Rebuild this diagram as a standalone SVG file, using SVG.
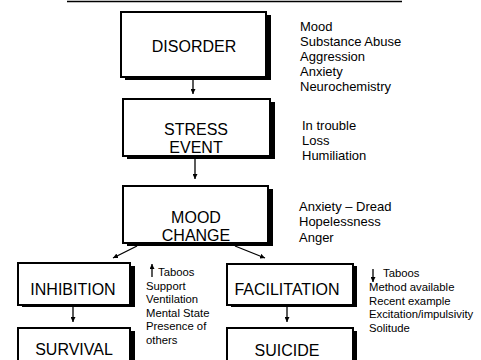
<svg xmlns="http://www.w3.org/2000/svg" width="481" height="360" viewBox="0 0 481 360">
<defs>
<style>
.box{fill:#fff;stroke:#000;stroke-width:2}
.sh{fill:#000}
.t{font-family:"Liberation Sans",Arial,sans-serif;font-size:16px;fill:#000;text-anchor:middle}
.s{font-family:"Liberation Sans",Arial,sans-serif;font-size:13px;fill:#000}
.m{font-family:"Liberation Sans",Arial,sans-serif;font-size:11.3px;fill:#000}
.c{stroke:#000;stroke-width:1.3;fill:none}
</style>
<marker id="ah" viewBox="0 0 10 10" refX="10" refY="5" markerWidth="5" markerHeight="5" markerUnits="userSpaceOnUse" orient="auto">
<path d="M0,0 L10,5 L0,10 z" fill="#000"/>
</marker>
<marker id="ah2" viewBox="0 0 10 10" refX="10" refY="5" markerWidth="6" markerHeight="5" markerUnits="userSpaceOnUse" orient="auto">
<path d="M0,0 L10,5 L0,10 z" fill="#000"/>
</marker>
</defs>
<rect width="481" height="360" fill="#fff"/>
<line x1="67" y1="1.5" x2="402" y2="1.5" stroke="#000" stroke-width="1.6"/>

<g id="connectors">
<line class="c" x1="193" y1="80" x2="193" y2="94" marker-end="url(#ah)"/>
<line class="c" x1="195" y1="159" x2="195" y2="179" marker-end="url(#ah)"/>
<line class="c" x1="137" y1="246" x2="113" y2="258" marker-end="url(#ah)"/>
<line class="c" x1="235" y1="246" x2="265" y2="258" marker-end="url(#ah)"/>
<line class="c" x1="73" y1="307" x2="73" y2="322" marker-end="url(#ah)"/>
<line class="c" x1="287" y1="307" x2="287" y2="322" marker-end="url(#ah)"/>
</g>

<g id="disorder">
<rect class="sh" x="125" y="15" width="146" height="65"/>
<rect class="box" x="121" y="12" width="145" height="65"/>
<text class="t" x="194" y="52">DISORDER</text>
</g>
<g id="disorder-notes">
<text class="s" x="300" y="31">Mood</text>
<text class="s" x="300" y="46">Substance Abuse</text>
<text class="s" x="300" y="61">Aggression</text>
<text class="s" x="300" y="76">Anxiety</text>
<text class="s" x="300" y="91">Neurochemistry</text>
</g>

<g id="stress">
<rect class="sh" x="127" y="102" width="148" height="57"/>
<rect class="box" x="123" y="99" width="147" height="57"/>
<text class="t" x="196" y="135">STRESS</text>
<text class="t" x="196" y="153">EVENT</text>
</g>
<g id="stress-notes">
<text class="s" x="302" y="130">In trouble</text>
<text class="s" x="302" y="145">Loss</text>
<text class="s" x="302" y="160">Humiliation</text>
</g>

<g id="mood">
<rect class="sh" x="127" y="189" width="146" height="57"/>
<rect class="box" x="123" y="186" width="145" height="57"/>
<text class="t" x="196" y="223">MOOD</text>
<text class="t" x="196" y="241">CHANGE</text>
</g>
<g id="mood-notes">
<text class="s" x="299" y="210.5">Anxiety – Dread</text>
<text class="s" x="299" y="226">Hopelessness</text>
<text class="s" x="299" y="241.5">Anger</text>
</g>

<g id="inhibition">
<rect class="sh" x="22" y="266" width="113" height="41"/>
<rect class="box" x="18" y="263" width="112" height="42"/>
<text class="t" x="73" y="295">INHIBITION</text>
</g>
<g id="inhibition-notes">
<line class="c" x1="152" y1="277" x2="152" y2="264" stroke-width="1" marker-end="url(#ah2)"/>
<text class="m" x="158" y="276">Taboos</text>
<text class="m" x="146" y="289.5">Support</text>
<text class="m" x="146" y="303">Ventilation</text>
<text class="m" x="146" y="316.5">Mental State</text>
<text class="m" x="146" y="330">Presence of</text>
<text class="m" x="146" y="344">others</text>
</g>

<g id="facilitation">
<rect class="sh" x="231" y="266" width="126" height="41"/>
<rect class="box" x="227" y="264" width="126" height="41"/>
<text class="t" x="287" y="295">FACILITATION</text>
</g>
<g id="facilitation-notes">
<line class="c" x1="373" y1="269" x2="373" y2="282" stroke-width="1" marker-end="url(#ah2)"/>
<text class="m" x="383" y="277">Taboos</text>
<text class="m" x="369" y="291">Method available</text>
<text class="m" x="369" y="304.5">Recent example</text>
<text class="m" x="369" y="318">Excitation/impulsivity</text>
<text class="m" x="369" y="331.5">Solitude</text>
</g>

<g id="survival">
<rect class="sh" x="22" y="331" width="113" height="40"/>
<rect class="box" x="18" y="328" width="112" height="40"/>
<text class="t" x="74" y="355">SURVIVAL</text>
</g>

<g id="suicide">
<rect class="sh" x="231" y="331" width="126" height="40"/>
<rect class="box" x="227" y="328" width="126" height="40"/>
<text class="t" x="287" y="356">SUICIDE</text>
</g>
</svg>
